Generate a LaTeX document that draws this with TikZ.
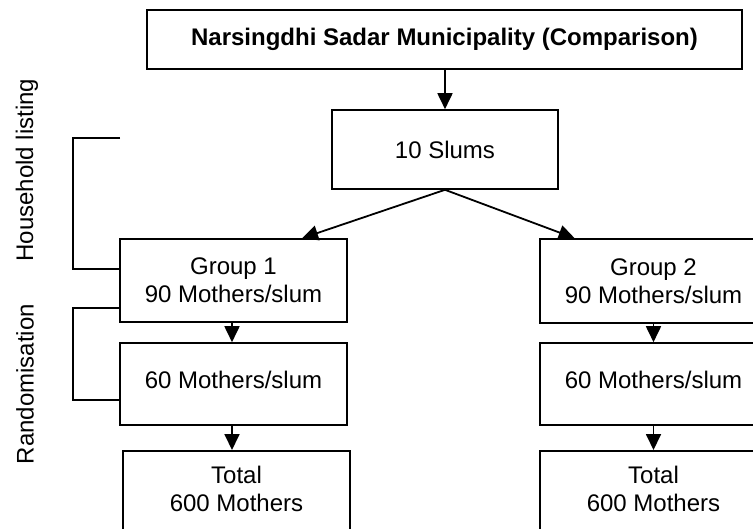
\documentclass[tikz,border=0pt]{standalone}
\usepackage{fontspec}
\setmainfont{Liberation Sans}
\usetikzlibrary{arrows.meta,calc}
\begin{document}
\begin{tikzpicture}[x=1pt,y=-1pt,
  box/.style={draw, line width=1.6pt, rectangle, inner sep=0pt, align=center,
    font=\fontsize{24}{27.6}\selectfont},
  conn/.style={line width=1.8pt, -{Triangle[length=16pt,width=15pt]}},
  brk/.style={line width=1.8pt},
  side/.style={rotate=90, font=\fontsize{24}{27.6}\selectfont}]
\useasboundingbox (0,0) rectangle (753,528);
\node[box, minimum width=595pt, minimum height=59pt, font=\fontsize{24}{27.6}\selectfont\bfseries] (title) at (444.5,39.5) {Narsingdhi Sadar Municipality (Comparison)};
\node[box, minimum width=226pt, minimum height=79pt] (slums) at (445,149.5) {10 Slums};
\node[box, minimum width=227pt, minimum height=83pt] (g1) at (233.5,280.5) {Group 1\\90 Mothers/slum};
\node[box, minimum width=227pt, minimum height=84pt] (g2) at (653.5,281) {Group 2\\90 Mothers/slum};
\node[box, minimum width=227pt, minimum height=82pt] (m1) at (233.5,384) {\raisebox{4pt}[\height][\depth]{60 Mothers/slum}};
\node[box, minimum width=227pt, minimum height=82pt] (m2) at (653.5,384) {\raisebox{4pt}[\height][\depth]{60 Mothers/slum}};
\node[box, minimum width=227pt, minimum height=84pt, anchor=north] (t1) at (236.5,450) {\strut\\[-14pt]Total\\600 Mothers\\\strut};
\node[box, minimum width=227pt, minimum height=84pt, anchor=north] (t2) at (653.5,450) {\strut\\[-14pt]Total\\600 Mothers\\\strut};
\node[side] (hl) at (27,170) {Household listing};
\node[side] (rd) at (25,384) {Randomisation};
% connectors
\draw[conn] (title.south -| slums.north) -- (slums.north);
\coordinate (g1t) at ($(g1.north west)!0.8!(g1.north east)$);
\coordinate (g2t) at ($(g2.north west)!0.155!(g2.north east)$);
\draw[conn] (slums.south) -- (g1t);
\draw[conn] (slums.south) -- (g2t);
\draw[conn] ([xshift=-1.5pt]g1.south) -- ([xshift=-1.5pt]m1.north);
\draw[conn] ([xshift=-1.5pt]m1.south) -- ([xshift=-1.5pt]m1.south |- t1.north);
\draw[conn] (g2.south) -- (m2.north);
\draw[conn] (m2.south) -- (t2.north);
% brackets
\coordinate (hla) at (120,138);
\coordinate (hlb) at (73,138);
\coordinate (hlc) at (73,269);
\draw[brk] (hla) -- (hlb) -- (hlc) -- (hlc -| g1.west);
\coordinate (rda) at (73,308);
\coordinate (rdb) at (73,400);
\draw[brk] (rda -| g1.west) -- (rda) -- (rdb) -- (rdb -| m1.west);
\end{tikzpicture}
\end{document}
